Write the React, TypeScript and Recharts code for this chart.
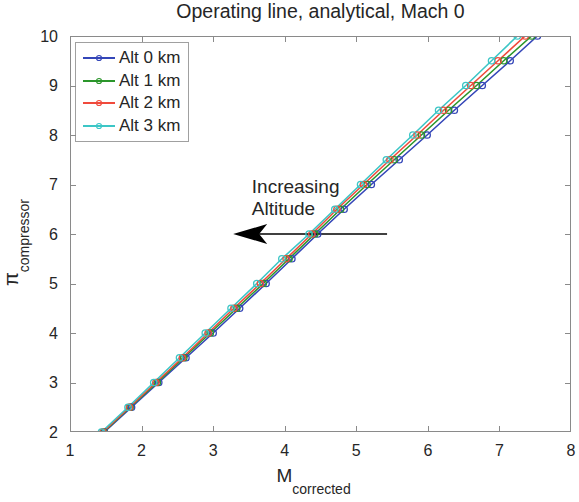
import { LineChart, Line, XAxis, YAxis, Legend, ReferenceLine, ReferenceDot } from "recharts";

// pressure ratio steps shared by all altitudes
const piValues = [2, 2.5, 3, 3.5, 4, 4.5, 5, 5.5, 6, 6.5, 7, 7.5, 8, 8.5, 9, 9.5, 10];

// corrected mass flow, one array per altitude
const alt0 = [1.48, 1.86, 2.24, 2.62, 3.0, 3.37, 3.74, 4.1, 4.46, 4.83, 5.21, 5.6, 5.99, 6.37, 6.76, 7.15, 7.53];
const alt1 = [1.47, 1.84, 2.22, 2.59, 2.96, 3.33, 3.7, 4.06, 4.42, 4.78, 5.15, 5.53, 5.91, 6.29, 6.68, 7.06, 7.45];
const alt2 = [1.46, 1.83, 2.2, 2.57, 2.93, 3.29, 3.66, 4.02, 4.38, 4.73, 5.1, 5.47, 5.85, 6.22, 6.6, 6.98, 7.36];
const alt3 = [1.44, 1.81, 2.17, 2.53, 2.89, 3.25, 3.61, 3.96, 4.34, 4.7, 5.06, 5.42, 5.79, 6.15, 6.53, 6.89, 7.25];

const xTicks = [1, 2, 3, 4, 5, 6, 7, 8];
const yTicks = [2, 3, 4, 5, 6, 7, 8, 9, 10];

const seriesNames = ["Alt 0 km", "Alt 1 km", "Alt 2 km", "Alt 3 km"];
const seriesColors = ["#3446b8", "#2b962b", "#f04a3c", "#3cc6c6"];
const seriesValues = [alt0, alt1, alt2, alt3];

const FONT = "'Liberation Sans', Arial, sans-serif";
const AXIS = "#8a8a8a";
const TEXT = "#262626";

// plot box (matches the chart margins + axis sizes below)
const BOX = { left: 70, top: 36, width: 501, height: 396 };

const toPoints = (xs: number[]) => xs.map((x, i) => ({ x, y: piValues[i] }));

function BottomTick(props: any) {
  const { x, y, payload } = props;
  return (
    <text x={x} y={y} dy="0.71em" textAnchor="middle" fontSize={16} fill={TEXT} fontFamily={FONT}>
      {payload.value}
    </text>
  );
}

function LeftTick(props: any) {
  const { x, y, payload } = props;
  return (
    <text x={x} y={y} dy="0.36em" textAnchor="end" fontSize={16} fill={TEXT} fontFamily={FONT}>
      {payload.value}
    </text>
  );
}

// matlab-style box with inward ticks, as a plain html overlay
function FrameOverlay() {
  const xr = xTicks[xTicks.length - 1] - xTicks[0];
  const yr = yTicks[yTicks.length - 1] - yTicks[0];
  const tick = (style: any, key: string) => (
    <div key={key} style={{ position: "absolute", background: AXIS, ...style }} />
  );
  return (
    <div
      style={{
        position: "absolute",
        left: BOX.left,
        top: BOX.top,
        width: BOX.width,
        height: BOX.height,
        boxSizing: "border-box",
        border: `1px solid ${AXIS}`,
        pointerEvents: "none",
      }}
    >
      {xTicks.slice(1, -1).map((t) => {
        const px = Math.round(((t - xTicks[0]) / xr) * BOX.width) - 1;
        return [
          tick({ left: px, top: 0, width: 1, height: 5 }, "xt" + t),
          tick({ left: px, bottom: 0, width: 1, height: 5 }, "xb" + t),
        ];
      })}
      {yTicks.slice(1, -1).map((t) => {
        const py = Math.round(BOX.height - ((t - yTicks[0]) / yr) * BOX.height) - 1;
        return [
          tick({ top: py, left: 0, width: 5, height: 1 }, "yl" + t),
          tick({ top: py, right: 0, width: 5, height: 1 }, "yr" + t),
        ];
      })}
    </div>
  );
}

function XLabel(props: any) {
  const vb = props.viewBox;
  const cx = vb.x + vb.width / 2;
  return (
    <text x={cx - 44} y={vb.y + 50} fontFamily={FONT} fill={TEXT}>
      <tspan fontSize={19}>M</tspan>
      <tspan fontSize={14} dy={12}>corrected</tspan>
    </text>
  );
}

function YLabel(props: any) {
  const vb = props.viewBox;
  const cy = vb.y + vb.height / 2;
  const bx = 18;
  return (
    <text
      transform={`translate(${bx}, ${cy + 52}) rotate(-90)`}
      fontFamily={FONT}
      fill={TEXT}
    >
      <tspan fontSize={20}>π</tspan>
      <tspan fontSize={14} dy={11}>compressor</tspan>
    </text>
  );
}

function LegendBox() {
  return (
    <div
      style={{
        border: "1px solid #a0a0a0",
        background: "#fff",
        width: 112,
        padding: "4px 0 4px 0",
        fontFamily: FONT,
        fontSize: 17,
        color: TEXT,
      }}
    >
      {seriesNames.map((n, i) => (
        <div key={n} style={{ display: "flex", alignItems: "center", height: 22.5, whiteSpace: "nowrap" }}>
          <svg width={44} height={12} style={{ marginLeft: 5, flexShrink: 0 }}>
            <line x1={2} x2={34} y1={6} y2={6} stroke={seriesColors[i]} strokeWidth={2} />
            <circle cx={18} cy={6} r={2.5} fill="none" stroke={seriesColors[i]} strokeWidth={1.2} />
          </svg>
          <span style={{ marginLeft: -6 }}>{n}</span>
        </div>
      ))}
    </div>
  );
}

function Arrow(props: any) {
  const { x1, y1, x2, y2 } = props;
  // tail at x1, tip at x2 (left)
  const tip = Math.min(x1, x2);
  const tail = Math.max(x1, x2);
  const yy = (y1 + y2) / 2;
  return (
    <g>
      <line x1={tail} x2={tip + 25} y1={yy} y2={yy} stroke="#000" strokeWidth={1.5} />
      <path
        d={`M${tip},${yy} L${tip + 34},${yy - 10} L${tip + 26},${yy} L${tip + 34},${yy + 10} Z`}
        fill="#000"
      />
    </g>
  );
}

function Note(props: any) {
  const { cx, cy } = props;
  return (
    <text x={cx} y={cy} fontFamily={FONT} fontSize={19} fill={TEXT}>
      <tspan x={cx}>Increasing</tspan>
      <tspan x={cx} dy={22}>Altitude</tspan>
    </text>
  );
}

export default function App() {
  return (
    <div style={{ position: "absolute", left: 0, top: 0, width: 579, height: 502, background: "#fff" }}>
      <div
        style={{
          position: "absolute",
          top: 0,
          left: 70,
          width: 501,
          textAlign: "center",
          fontFamily: FONT,
          fontSize: 19.5,
          color: TEXT,
        }}
      >
        Operating line, analytical, Mach 0
      </div>
      <LineChart width={579} height={502} margin={{ top: 36, right: 8, bottom: 20, left: 20 }}>
        <XAxis
          xAxisId="b"
          dataKey="x"
          type="number"
          domain={[1, 8]}
          ticks={xTicks}
          allowDataOverflow
          height={50}
          tickSize={0}
          tickMargin={13}
          tick={<BottomTick />}
          axisLine={false}
          label={<XLabel />}
        />
        <YAxis
          yAxisId="l"
          type="number"
          domain={[2, 10]}
          ticks={yTicks}
          allowDataOverflow
          width={50}
          tickSize={0}
          tickMargin={12}
          tick={<LeftTick />}
          axisLine={false}
          label={<YLabel />}
        />
        {seriesValues.map((vals, i) => (
          <Line
            key={seriesNames[i]}
            xAxisId="b"
            yAxisId="l"
            data={toPoints(vals)}
            dataKey="y"
            name={seriesNames[i]}
            stroke={seriesColors[i]}
            strokeWidth={1.6}
            dot={{ r: 3.2, fill: "none", stroke: seriesColors[i], strokeWidth: 1.3 }}
            isAnimationActive={false}
          />
        ))}
        <ReferenceLine
          xAxisId="b"
          yAxisId="l"
          segment={[
            { x: 5.43, y: 6 },
            { x: 3.28, y: 6 },
          ]}
          shape={<Arrow />}
          ifOverflow="visible"
        />
        <ReferenceDot xAxisId="b" yAxisId="l" x={3.54} y={6.83} r={0} shape={<Note />} ifOverflow="visible" />
        <Legend
          layout="horizontal"
          verticalAlign="middle"
          align="center"
          content={<LegendBox />}
          wrapperStyle={{ position: "absolute", left: 75, top: 42, width: "auto" }}
        />
      </LineChart>
      <FrameOverlay />
    </div>
  );
}
